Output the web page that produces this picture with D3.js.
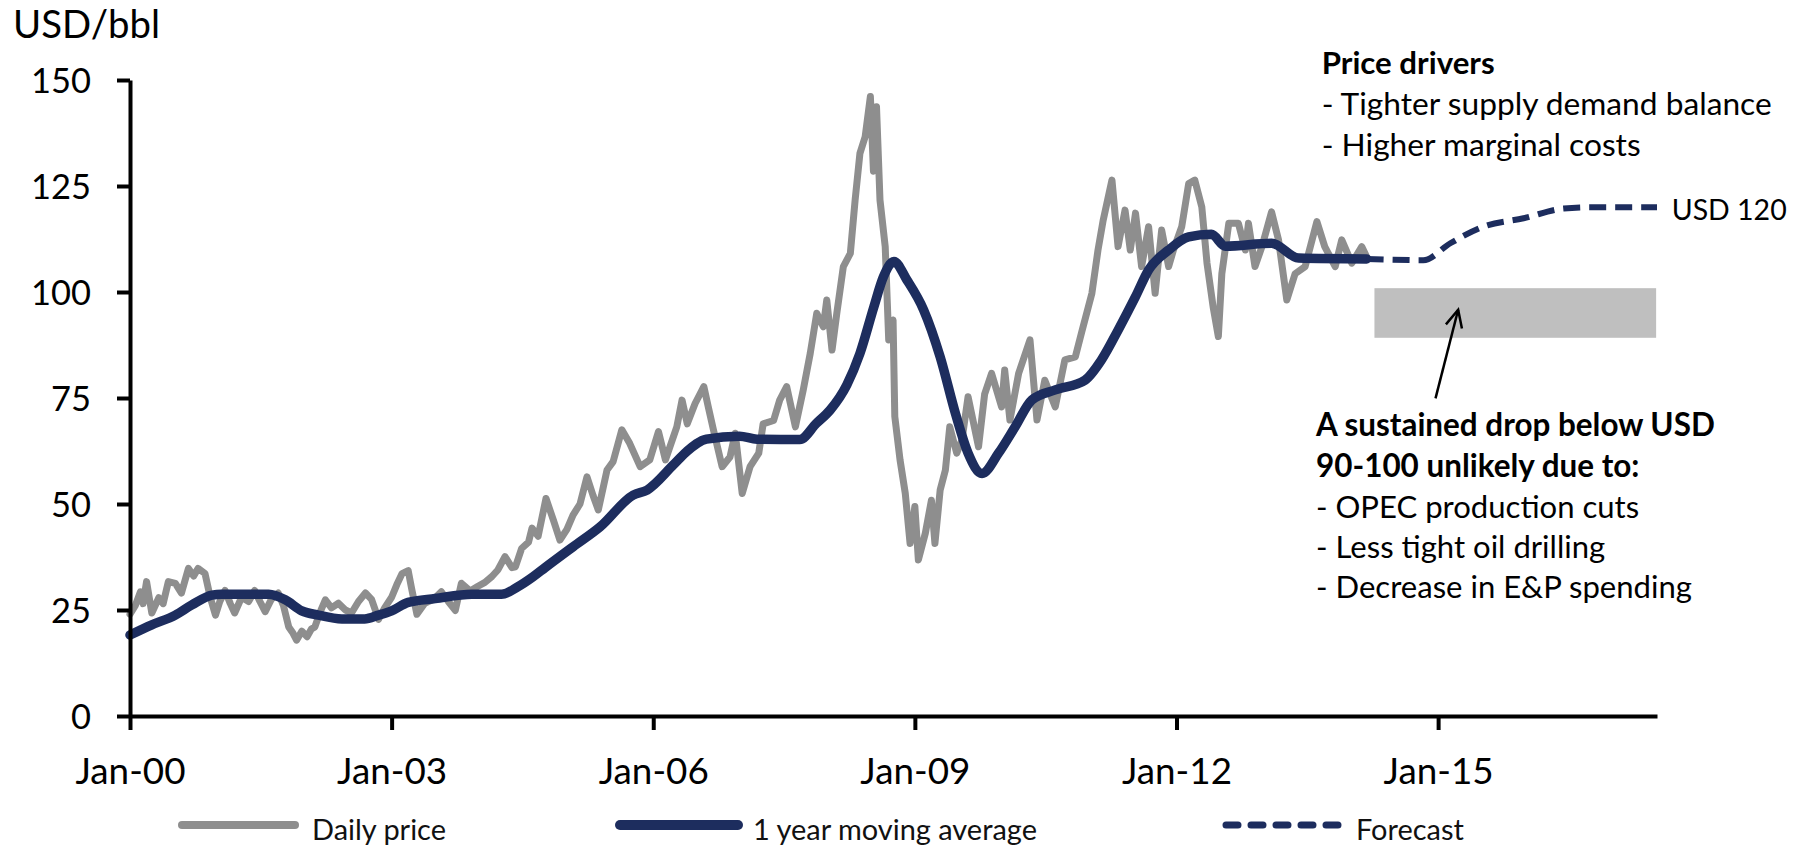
<!DOCTYPE html>
<html><head><meta charset="utf-8">
<script src="https://cdn.jsdelivr.net/npm/d3@7"></script>
<style>
body{margin:0;background:#fff;}
svg{display:block;font-family:Lato,"Open Sans",sans-serif;}
</style>
</head><body>
<svg id="chart" width="1806" height="846"></svg>
<script>
// ---------------- DATA ----------------
const yAxisTitle = "USD/bbl";
const yTicks = [0, 25, 50, 75, 100, 125, 150];
const xTickYears = [2000, 2003, 2006, 2009, 2012, 2015];
const xTickLabels = ["Jan-00", "Jan-03", "Jan-06", "Jan-09", "Jan-12", "Jan-15"];
const seriesNames = ["Daily price", "1 year moving average", "Forecast"];

// [decimal year, USD/bbl]
const dailyPrice = [
[2000.00,24],[2000.06,26],[2000.12,29.3],[2000.15,26.5],[2000.19,31.7],[2000.25,24.3],[2000.33,27.9],[2000.38,26.5],[2000.44,31.7],[2000.52,31.3],[2000.59,29],[2000.67,34.8],[2000.73,33],[2000.78,34.8],[2000.86,33.6],[2000.92,28],[2000.98,23.8],
[2001.03,27],[2001.09,29.6],[2001.15,26.5],[2001.20,24.3],[2001.28,28],[2001.36,27],[2001.43,29.6],[2001.49,27],[2001.55,24.6],[2001.62,27.5],[2001.70,29],[2001.76,26],[2001.82,21],[2001.87,19.5],[2001.91,17.9],[2001.97,20],
[2002.03,18.7],[2002.08,20.5],[2002.12,21],[2002.18,24.5],[2002.24,27.4],[2002.31,25.5],[2002.39,26.6],[2002.47,25],[2002.54,24.3],[2002.62,27],[2002.70,29],[2002.77,27.5],[2002.85,22.8],[2002.92,25.5],
[2003.00,28],[2003.06,31],[2003.12,33.6],[2003.19,34.3],[2003.23,30],[2003.29,24],[2003.38,26.6],[2003.48,27.5],[2003.57,29.3],[2003.65,27],[2003.73,24.9],[2003.80,31.3],[2003.90,29.5],[2003.99,30.6],
[2004.07,31.5],[2004.15,32.9],[2004.22,34.5],[2004.30,37.6],[2004.38,35],[2004.42,35.2],[2004.49,39.5],[2004.57,41],[2004.61,44.3],[2004.68,42.4],[2004.77,51.3],[2004.855,46.2],[2004.93,41.5],
[2005.01,44],[2005.08,47.4],[2005.16,50],[2005.24,56.4],[2005.31,52],[2005.37,48.6],[2005.47,58],[2005.54,60],[2005.64,67.5],[2005.73,64.3],[2005.85,58.8],[2005.96,60.4],
[2006.06,67.1],[2006.14,60.4],[2006.27,68.2],[2006.33,74.5],[2006.39,68.9],[2006.48,73.7],[2006.58,77.7],[2006.63,73],[2006.69,67.5],[2006.79,58.8],[2006.88,61.1],[2006.94,66.7],
[2007.02,52.5],[2007.11,58.8],[2007.21,62],[2007.26,68.9],[2007.38,69.7],[2007.45,74.5],[2007.53,77.7],[2007.63,68.2],[2007.72,76.9],[2007.80,85.5],[2007.875,95],[2007.95,91.8],[2007.99,98.1],
[2008.05,86.3],[2008.105,95],[2008.18,106],[2008.26,109.1],[2008.315,121.7],[2008.37,132.7],[2008.43,136.6],[2008.49,146.1],[2008.525,128.5],[2008.56,143.7],[2008.60,121.7],[2008.66,110.7],[2008.70,88.7],[2008.75,93.4],[2008.77,70.6],[2008.83,60.4],[2008.89,52.5],[2008.945,40.7],
[2009.00,49.4],[2009.04,36.8],[2009.12,43.1],[2009.19,50.9],[2009.23,40.7],[2009.29,53.3],[2009.35,58],[2009.40,68.2],[2009.48,62],[2009.54,65.1],[2009.61,75.3],[2009.73,63.5],[2009.80,75.9],[2009.88,80.8],[2009.995,72.9],
[2010.03,81.6],[2010.09,69.8],[2010.19,80.8],[2010.32,88.7],[2010.40,69.8],[2010.49,79.2],[2010.61,72.9],[2010.72,84],[2010.84,84.7],[2010.91,90.3],
[2011.03,99.7],[2011.10,109.9],[2011.16,117],[2011.26,126.4],[2011.33,110.7],[2011.41,119.3],[2011.47,109.9],[2011.53,118.6],[2011.60,106],[2011.68,115.4],[2011.755,99.7],[2011.83,114.6],[2011.91,106],[2011.965,109.9],
[2012.06,115.4],[2012.14,125.6],[2012.21,126.4],[2012.29,120.1],[2012.35,106.8],[2012.42,96.5],[2012.48,89.5],[2012.52,104.3],[2012.60,116.2],[2012.71,116.2],[2012.79,109.9],[2012.825,116.2],[2012.90,106],[2012.98,110.7],
[2013.09,118.9],[2013.17,112.3],[2013.265,98.1],[2013.36,104.3],[2013.475,106],[2013.61,116.6],[2013.70,110.7],[2013.82,106],[2013.895,112.3],[2014.01,106.8],[2014.125,110.7],[2014.18,108.3]
];

const movingAverage = [
[2000.00,19.1],[2000.25,21.5],[2000.52,23.8],[2000.71,26.2],[2000.94,28.5],[2001.05,28.7],[2001.59,28.7],[2001.78,27.4],[2001.97,24.8],[2002.16,23.8],[2002.43,22.9],[2002.69,22.9],[2002.85,23.8],[2003.00,24.8],[2003.19,26.8],[2003.50,27.7],[2003.92,28.7],[2004.26,28.7],[2004.45,30.5],[2004.62,32.8],[2004.76,35.0],
[2005.08,39.9],[2005.39,44.6],[2005.77,52.1],[2005.93,53.3],[2006.23,59.2],[2006.38,62.3],[2006.61,65.3],[2006.99,66],[2007.19,65.3],[2007.68,65.2],[2007.87,69],[2008.03,72.2],[2008.22,78.1],[2008.37,85.5],[2008.53,96.5],[2008.64,103.6],[2008.76,107.2],[2008.91,102.8],
[2009.10,95.8],[2009.29,84.7],[2009.47,71],[2009.61,62],[2009.77,57.2],[2009.96,62],[2010.15,68.2],[2010.34,74.5],[2010.61,76.9],[2010.95,79.2],[2011.14,84],[2011.33,91],[2011.53,98.9],[2011.68,105.2],[2011.91,109.9],[2012.14,113],[2012.40,113.6],[2012.56,110.8],[2013.09,111.5],[2013.40,108],[2014.18,107.8]
];

const forecast = [
[2014.18,107.8],[2014.83,107.5],[2015.14,111.5],[2015.52,115.4],[2015.98,117.4],[2016.44,119.7],[2016.75,120],[2017.51,120]
];
const forecastLabel = "USD 120";

// shaded "unlikely" price band
const bandYears = [2014.27, 2017.50];
const bandPrices = [89.2, 100.9];
// arrow from text to band: [year, price]
const arrowTail = [2014.97, 74.9];
const arrowHead = [2015.23, 95.8];

const driversTitle = "Price drivers";
const driversLines = ["- Tighter supply demand balance", "- Higher marginal costs"];
const dropTitleLines = ["A sustained drop below USD", "90-100 unlikely due to:"];
const dropLines = ["- OPEC production cuts", "- Less tight oil drilling", "- Decrease in E&P spending"];

// ---------------- CHART ----------------
const GRAY = "#8e8e8e", NAVY = "#1d2d5e", BAND = "#bfbfbf";
const svg = d3.select("#chart");

const x = d3.scaleLinear().domain([2000, 2017.51]).range([130, 1657]);
const y = d3.scaleLinear().domain([0, 150]).range([716, 80]);

function fit(sel, target, ref) {
  const r = ref || sel;
  const w = d3.max(r.nodes(), n => n.getComputedTextLength());
  const fs = parseFloat(sel.attr("font-size"));
  sel.attr("font-size", (fs * target / w).toFixed(2));
}

// band
svg.append("rect")
  .attr("x", x(bandYears[0])).attr("width", x(bandYears[1]) - x(bandYears[0]))
  .attr("y", y(bandPrices[1])).attr("height", y(bandPrices[0]) - y(bandPrices[1]))
  .attr("fill", BAND);

// lines
const line = d3.line().x(d => x(d[0])).y(d => y(d[1]));
svg.append("path").datum(dailyPrice)
  .attr("d", line).attr("fill", "none").attr("stroke", GRAY)
  .attr("stroke-width", 7).attr("stroke-linejoin", "round").attr("stroke-linecap", "round");
svg.append("path").datum(movingAverage)
  .attr("d", line.curve(d3.curveMonotoneX)).attr("fill", "none").attr("stroke", NAVY)
  .attr("stroke-width", 9.5).attr("stroke-linejoin", "round").attr("stroke-linecap", "round");
svg.append("path").datum(forecast)
  .attr("d", line.curve(d3.curveMonotoneX)).attr("fill", "none").attr("stroke", NAVY)
  .attr("stroke-width", 6).attr("stroke-dasharray", "17 9");

// axes
const yAxis = svg.append("g").attr("transform", "translate(130,0)")
  .call(d3.axisLeft(y).tickValues(yTicks).tickSize(13).tickSizeOuter(0).tickPadding(26));
const xAxis = svg.append("g").attr("transform", "translate(0,716)")
  .call(d3.axisBottom(x).tickValues(xTickYears).tickFormat((d, i) => xTickLabels[i]).tickSize(14).tickSizeOuter(0));
[yAxis, xAxis].forEach(g => {
  g.attr("font-family", null);
  g.select(".domain").attr("stroke", "#000").attr("stroke-width", 4);
  g.selectAll(".tick line").attr("stroke", "#000").attr("stroke-width", 4);
  g.selectAll("text").attr("fill", "#000").attr("font-size", 36);
});
yAxis.selectAll("text").attr("dy", "0.36em");
xAxis.selectAll("text").attr("y", 68).attr("dy", 0);
fit(yAxis.selectAll("text"), 60);
fit(xAxis.selectAll("text"), 110);

// y title
const yt = svg.append("text").attr("x", 13).attr("y", 38).attr("font-size", 36).text(yAxisTitle);
fit(yt, 147);

// legend
const legendLines = [
  {x1: 182, x2: 295, stroke: GRAY, w: 8, dash: null, tx: 312},
  {x1: 620, x2: 738, stroke: NAVY, w: 10, dash: null, tx: 753},
  {x1: 1226, x2: 1341, stroke: NAVY, w: 7, dash: "12 13", tx: 1356}
];
const lg = svg.append("g");
legendLines.forEach((l, i) => {
  lg.append("line").attr("x1", l.x1).attr("x2", l.x2).attr("y1", 825).attr("y2", 825)
    .attr("stroke", l.stroke).attr("stroke-width", l.w).attr("stroke-linecap", "round")
    .attr("stroke-dasharray", l.dash);
});
const lt = lg.selectAll("text.leg").data(seriesNames).join("text").attr("class", "leg")
  .attr("x", (d, i) => legendLines[i].tx).attr("y", 840).attr("font-size", 30).attr("fill", "#111").text(d => d);
fit(lt, 134, lt.filter((d, i) => i === 0));

// annotations - top block
const pt = svg.append("text").attr("x", 1321.7).attr("y", 74).attr("font-size", 32)
  .attr("font-weight", "bold").text(driversTitle);
fit(pt, 173);
const pl = svg.selectAll("text.drv").data(driversLines).join("text").attr("class", "drv")
  .attr("x", 1321.7).attr("y", (d, i) => 115 + i * 41).attr("font-size", 32).text(d => d);
fit(pl, 450);

// USD 120 label
const ul = svg.append("text").attr("x", 1671.7).attr("y", 220).attr("font-size", 32).text(forecastLabel);
fit(ul, 115);

// lower block
const dt = svg.selectAll("text.dt").data(dropTitleLines).join("text").attr("class", "dt")
  .attr("x", 1316).attr("y", (d, i) => 436 + i * 40.5).attr("font-size", 32)
  .attr("font-weight", "bold").text(d => d);
fit(dt, 399);
const dl = svg.selectAll("text.dl").data(dropLines).join("text").attr("class", "dl")
  .attr("x", 1316).attr("y", (d, i) => 518 + i * 40.2).attr("font-size", 32).text(d => d);
fit(dl, 376);

// arrow
const tx0 = x(arrowTail[0]), ty0 = y(arrowTail[1]), tx1 = x(arrowHead[0]), ty1 = y(arrowHead[1]);
svg.append("line").attr("x1", tx0).attr("y1", ty0).attr("x2", tx1).attr("y2", ty1)
  .attr("stroke", "#000").attr("stroke-width", 2.5);
const ang = Math.atan2(ty1 - ty0, tx1 - tx0) + Math.PI;
const L = 19, spread = 0.45;
const w1 = [tx1 + L * Math.cos(ang + spread), ty1 + L * Math.sin(ang + spread)];
const w2 = [tx1 + L * Math.cos(ang - spread), ty1 + L * Math.sin(ang - spread)];
svg.append("path").attr("d", `M${w1[0]},${w1[1]}L${tx1},${ty1}L${w2[0]},${w2[1]}`)
  .attr("fill", "none").attr("stroke", "#000").attr("stroke-width", 2.5).attr("stroke-linejoin", "miter");
</script>
</body></html>
